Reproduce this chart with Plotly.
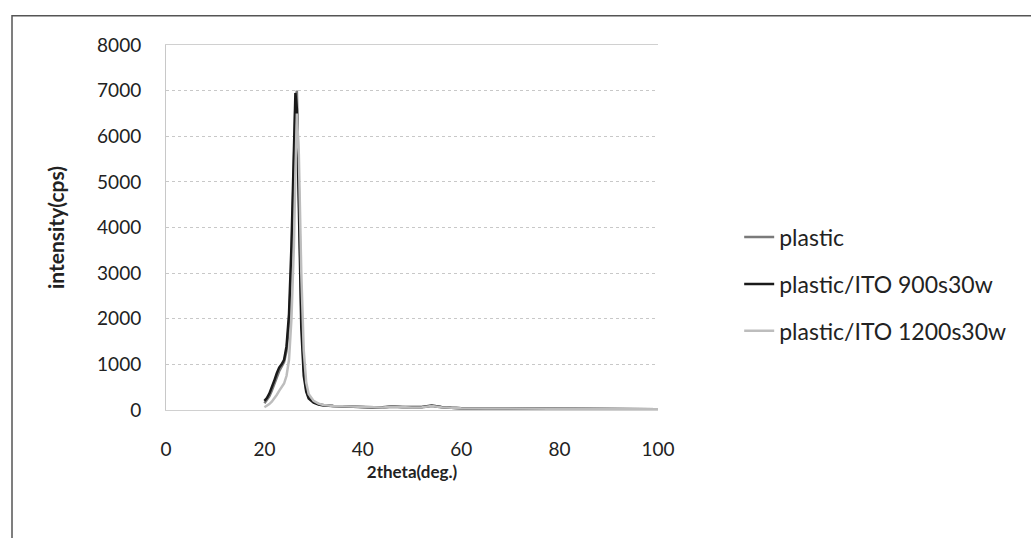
import plotly.graph_objects as go

two_theta = [20, 20.5, 21, 21.5, 22, 22.5, 23, 23.5, 24, 24.5, 25, 25.5, 26, 26.3, 26.6,
             27, 27.5, 28, 28.5, 29, 30, 31, 32, 34, 36, 38, 40, 42, 44, 46, 48, 50,
             52, 54, 56, 58, 60, 65, 70, 75, 80, 85, 90, 95, 100]

plastic = [150, 220, 300, 420, 560, 720, 850, 950, 1050, 1300, 1900, 3200, 5500, 6700, 7000,
           5000, 2200, 900, 450, 280, 180, 130, 110, 90, 80, 70, 60, 55, 55, 70, 60, 55,
           60, 90, 60, 45, 40, 35, 30, 30, 25, 20, 20, 15, 15]

ito_900 = [200, 260, 360, 480, 640, 800, 930, 1000, 1100, 1400, 2100, 3600, 6000, 6950, 6600,
           4300, 1800, 750, 400, 250, 160, 120, 100, 85, 75, 65, 60, 55, 60, 75, 65, 60,
           65, 100, 65, 50, 40, 35, 30, 28, 25, 20, 18, 15, 15]

ito_1200 = [60, 90, 130, 180, 250, 330, 420, 500, 580, 750, 1100, 2000, 3600, 5200, 6500,
            5600, 3000, 1300, 600, 350, 200, 140, 110, 90, 80, 70, 60, 55, 55, 70, 60, 55,
            60, 85, 60, 45, 40, 35, 30, 28, 25, 20, 18, 15, 15]

series = [("plastic", plastic, "#7a7a7a"),
          ("plastic/ITO 900s30w", ito_900, "#1a1a1a"),
          ("plastic/ITO 1200s30w", ito_1200, "#bdbdbd")]

x_ticks = [0, 20, 40, 60, 80, 100]
y_ticks = [0, 1000, 2000, 3000, 4000, 5000, 6000, 7000, 8000]

FONT = "Lato"

fig = go.Figure()
for i, (name, ys, color) in enumerate(series):
    fig.add_trace(go.Scatter(x=two_theta, y=ys, mode="lines", name=name,
                             line=dict(color=color, width=2.5),
                             legendgroup=f"g{i}"))

fig.update_layout(
    width=1031, height=538,
    paper_bgcolor="white", plot_bgcolor="white",
    margin=dict(l=166, r=373, t=45, b=128),
    font=dict(family=FONT, size=19, color="#222"),
    showlegend=True,
    legend=dict(x=1.165, y=0.345, xanchor="left", yanchor="middle",
                font=dict(family=FONT, size=23, color="#222"),
                tracegroupgap=14, bgcolor="rgba(0,0,0,0)"),
    xaxis=dict(range=[0, 100], tickvals=x_ticks, showgrid=False, zeroline=False,
               showline=True, mirror=True, linecolor="#d0d0d0", linewidth=1,
               ticks="", ticklabelstandoff=22,
               tickfont=dict(family=FONT, size=19),
               title=dict(text="<b>2theta(deg.)</b>", standoff=7,
                          font=dict(family=FONT, size=17))),
    yaxis=dict(range=[0, 8000], tickvals=y_ticks, showgrid=True,
               gridcolor="#c8c8c8", griddash="dot", gridwidth=1,
               zeroline=False, showline=True, linecolor="#c8c8c8", linewidth=1,
               ticks="", ticklabelstandoff=20,
               tickfont=dict(family=FONT, size=19),
               title=dict(text="<b>intensity(cps)</b>", standoff=26,
                          font=dict(family=FONT, size=21))),
    shapes=[dict(type="rect", xref="paper", yref="paper",
                 x0=-0.313, x1=1.9, y0=-0.4, y1=1.08,
                 line=dict(color="#555", width=1.5), layer="below")],
)

fig.write_html("out.html")
